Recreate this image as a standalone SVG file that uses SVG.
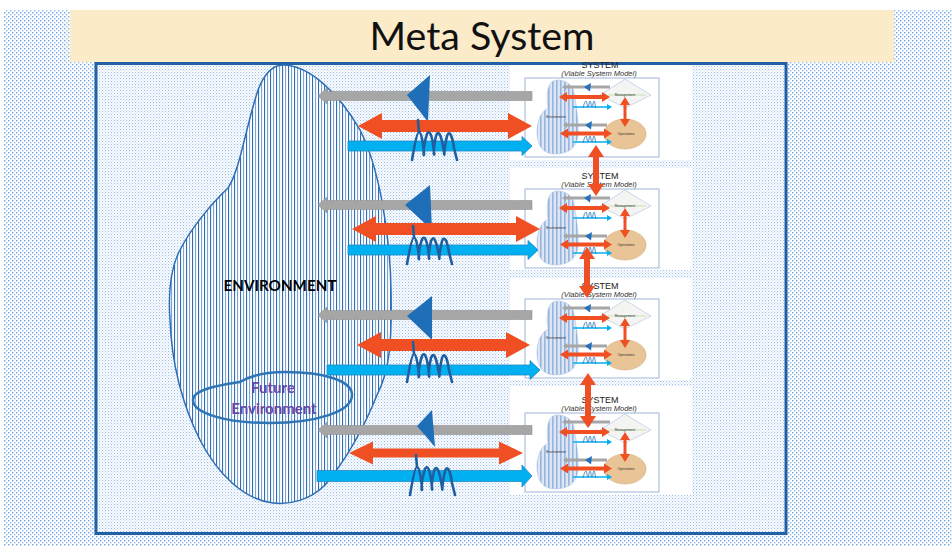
<svg xmlns="http://www.w3.org/2000/svg" xmlns:xlink="http://www.w3.org/1999/xlink" width="952" height="546" viewBox="0 0 952 546">
<defs>
<style>
.gr{fill:#A6A6A6;stroke:#8E8E8E;stroke-width:0.6}
.rd{fill:#F04E23}
.bl{fill:#00B0F0;stroke:#1C8BC4;stroke-width:0.8}
.tri{fill:#1F6EB8}
.coil{fill:none;stroke:#1F5FA0;stroke-width:2.6;stroke-linejoin:round;stroke-linecap:round}
.sg{fill:#A6A6A6}
.sr{fill:#F04E23}
.sb{fill:#00B0F0}
.st{fill:#2472BE}
.scoil{fill:none;stroke:#2E75B6;stroke-width:0.8}
.tiny{font-family:'Liberation Sans',Arial,sans-serif;font-size:3.5px;fill:#333;text-anchor:middle}
.sys{font-family:'Liberation Sans',Arial,sans-serif;font-size:9px;fill:#222;text-anchor:middle}
.vsm{font-family:'Liberation Sans',Arial,sans-serif;font-size:7.5px;font-style:italic;fill:#333;text-anchor:middle}
.pan{fill:#FFFFFF}
.inner{fill:#FFFFFF;stroke:#9DB3D9;stroke-width:1}
</style>
<pattern id="dotsOut" width="4" height="4" patternUnits="userSpaceOnUse">
<rect width="4" height="4" fill="#FFFFFF"/>
<rect x="0" y="0" width="1.4" height="1.4" fill="#6FA6E6"/>
<rect x="2" y="2" width="1.4" height="1.4" fill="#8DB9EC"/>
</pattern>
<pattern id="dotsIn" width="3" height="3" patternUnits="userSpaceOnUse">
<rect width="3" height="3" fill="#FFFFFF"/>
<rect x="0" y="0" width="1.1" height="1.1" fill="#9CC0EE"/>
<rect x="1.5" y="1.5" width="1.1" height="1.1" fill="#BCD5F3"/>
</pattern>
<pattern id="stripes" width="6" height="6" patternUnits="userSpaceOnUse">
<rect width="6" height="6" fill="#FFFFFF"/>
<rect x="0" y="0" width="1.1" height="6" fill="#2F6DB3"/>
<rect x="3" y="0" width="1.1" height="6" fill="#7AA4D6"/>
</pattern>
<pattern id="sstripes" width="4" height="4" patternUnits="userSpaceOnUse">
<rect width="4" height="4" fill="#DCE6F4"/>
<rect x="0" y="0" width="1.6" height="4" fill="#97B5DE"/>
</pattern>
<path id="coilShape" d="M8,0 L9,12 M2,40 C4,28 7,12 9,12 C12,12 14,32 14,34 C14,38 12,30 17,14 C19,10 22,12 24,32 C25,38 22,34 26,16 C28,10 31,12 34,32 C35,38 33,34 37,16 C39,10 42,14 44,28 L47,40"/>
</defs>

<rect x="0" y="0" width="952" height="546" fill="#FFFFFF"/>
<rect x="4" y="10" width="948" height="536" fill="url(#dotsOut)"/>
<rect id="frame" x="96" y="63.5" width="690" height="470" fill="url(#dotsIn)" stroke="#2160A6" stroke-width="3"/>

<g id="environment">
<path d="M283,65 C310,65 340,95 360,130 C378,165 390,230 391,290 C392,340 390,370 377,395 C365,425 350,455 325,485 C310,500 290,505 273,503 C245,500 218,475 200,440 C185,410 172,370 170,320 C168,290 172,265 180,250 C190,230 210,205 228,188 C240,170 245,130 258,90 C265,72 273,65 283,65 Z" fill="url(#stripes)" stroke="#2E6DB4" stroke-width="1.5"/>
</g>

<g id="future-environment">
<path d="M193,400 C193,389 222,385 240,382 C250,376 262,372 285,372 C325,372 352,381 352,395 C352,412 315,423 270,423 C225,423 193,413 193,400 Z" fill="none" stroke="#2E75B6" stroke-width="2.5"/>
</g>

<g id="system1">
<rect class="pan" x="510" y="65" width="182" height="95"/>
<g transform="translate(0,0)">
<text class="sys" x="600" y="68">SYSTEM</text>
<text class="vsm" x="599" y="76">(Viable System Model)</text>
<rect class="inner" x="525" y="78" width="134" height="79"/>
<path d="M553,81 C560,78 572,82 574,92 C576,105 579,120 578,135 C577,148 568,154 555,154 C543,154 537,146 537,132 C537,120 541,112 548,108 C546,98 547,84 553,81 Z" fill="url(#sstripes)" stroke="#B4C7E7" stroke-width="0.6"/>
<text class="tiny" x="556" y="118">Environment</text>
<polygon points="600,95 625,79 651,95 625,108" fill="#F4F5F2" stroke="#B4C7E7" stroke-width="0.7"/>
<line x1="608" y1="95" x2="646" y2="95" stroke="#A9D18E" stroke-width="0.6"/>
<text class="tiny" x="625" y="96">Management</text>
<ellipse cx="625" cy="134" rx="21" ry="15" fill="#E8C496" stroke="#D0A870" stroke-width="0.6"/>
<text class="tiny" x="626" y="135">Operations</text>
<path class="sr" d="M625,97 L630,105 H626.5 V119 H630 L625,127 L620,119 H623.5 V105 H620 Z"/>
<path class="sg" d="M610,85.5 H566 V84 L562,87 L566,90 V88.5 H610 Z"/>
<path class="st" d="M584,87 L591,83 L590,91.5 Z"/>
<path class="sr" d="M559,97 L567,92 V95 H602 V92 L610,97 L602,102 V99 H567 V102 Z"/>
<path class="sb" d="M573,106.3 H607 V104 L612,107 L607,110 V107.7 H573 Z"/>
<path class="scoil" d="M583,108 C584,104 585,101 586,101 C587,101 587,107 588,107 C589,107 589,101 590,101 C591,101 591,107 592,107 C593,107 593,101 594,101 C595,101 595,106 596,108"/>
<path class="sg" d="M607,123.5 H567 V122 L563,125 L567,128 V126.5 H607 Z"/>
<path class="st" d="M585,125 L592,121 L591,129.5 Z"/>
<path class="sr" d="M560,133.5 L568,128.5 V131.5 H604 V128.5 L612,133.5 L604,138.5 V135.5 H568 V138.5 Z"/>
<path class="sb" d="M573,141.3 H607 V139 L612,142 L607,145 V142.7 H573 Z"/>
<path class="scoil" d="M583,143 C584,139 585,136 586,136 C587,136 587,142 588,142 C589,142 589,136 590,136 C591,136 591,142 592,142 C593,142 593,136 594,136 C595,136 595,141 596,143"/>
</g>
</g>

<g id="system2">
<rect class="pan" x="510" y="168" width="182" height="102"/>
<g transform="translate(0,111)">
<text class="sys" x="600" y="68">SYSTEM</text>
<text class="vsm" x="599" y="76">(Viable System Model)</text>
<rect class="inner" x="525" y="78" width="134" height="79"/>
<path d="M553,81 C560,78 572,82 574,92 C576,105 579,120 578,135 C577,148 568,154 555,154 C543,154 537,146 537,132 C537,120 541,112 548,108 C546,98 547,84 553,81 Z" fill="url(#sstripes)" stroke="#B4C7E7" stroke-width="0.6"/>
<text class="tiny" x="556" y="118">Environment</text>
<polygon points="600,95 625,79 651,95 625,108" fill="#F4F5F2" stroke="#B4C7E7" stroke-width="0.7"/>
<line x1="608" y1="95" x2="646" y2="95" stroke="#A9D18E" stroke-width="0.6"/>
<text class="tiny" x="625" y="96">Management</text>
<ellipse cx="625" cy="134" rx="21" ry="15" fill="#E8C496" stroke="#D0A870" stroke-width="0.6"/>
<text class="tiny" x="626" y="135">Operations</text>
<path class="sr" d="M625,97 L630,105 H626.5 V119 H630 L625,127 L620,119 H623.5 V105 H620 Z"/>
<path class="sg" d="M610,85.5 H566 V84 L562,87 L566,90 V88.5 H610 Z"/>
<path class="st" d="M584,87 L591,83 L590,91.5 Z"/>
<path class="sr" d="M559,97 L567,92 V95 H602 V92 L610,97 L602,102 V99 H567 V102 Z"/>
<path class="sb" d="M573,106.3 H607 V104 L612,107 L607,110 V107.7 H573 Z"/>
<path class="scoil" d="M583,108 C584,104 585,101 586,101 C587,101 587,107 588,107 C589,107 589,101 590,101 C591,101 591,107 592,107 C593,107 593,101 594,101 C595,101 595,106 596,108"/>
<path class="sg" d="M607,123.5 H567 V122 L563,125 L567,128 V126.5 H607 Z"/>
<path class="st" d="M585,125 L592,121 L591,129.5 Z"/>
<path class="sr" d="M560,133.5 L568,128.5 V131.5 H604 V128.5 L612,133.5 L604,138.5 V135.5 H568 V138.5 Z"/>
<path class="sb" d="M573,141.3 H607 V139 L612,142 L607,145 V142.7 H573 Z"/>
<path class="scoil" d="M583,143 C584,139 585,136 586,136 C587,136 587,142 588,142 C589,142 589,136 590,136 C591,136 591,142 592,142 C593,142 593,136 594,136 C595,136 595,141 596,143"/>
</g>
</g>

<g id="system3">
<rect class="pan" x="510" y="278" width="182" height="102"/>
<g transform="translate(0,221)">
<text class="sys" x="600" y="68">SYSTEM</text>
<text class="vsm" x="599" y="76">(Viable System Model)</text>
<rect class="inner" x="525" y="78" width="134" height="79"/>
<path d="M553,81 C560,78 572,82 574,92 C576,105 579,120 578,135 C577,148 568,154 555,154 C543,154 537,146 537,132 C537,120 541,112 548,108 C546,98 547,84 553,81 Z" fill="url(#sstripes)" stroke="#B4C7E7" stroke-width="0.6"/>
<text class="tiny" x="556" y="118">Environment</text>
<polygon points="600,95 625,79 651,95 625,108" fill="#F4F5F2" stroke="#B4C7E7" stroke-width="0.7"/>
<line x1="608" y1="95" x2="646" y2="95" stroke="#A9D18E" stroke-width="0.6"/>
<text class="tiny" x="625" y="96">Management</text>
<ellipse cx="625" cy="134" rx="21" ry="15" fill="#E8C496" stroke="#D0A870" stroke-width="0.6"/>
<text class="tiny" x="626" y="135">Operations</text>
<path class="sr" d="M625,97 L630,105 H626.5 V119 H630 L625,127 L620,119 H623.5 V105 H620 Z"/>
<path class="sg" d="M610,85.5 H566 V84 L562,87 L566,90 V88.5 H610 Z"/>
<path class="st" d="M584,87 L591,83 L590,91.5 Z"/>
<path class="sr" d="M559,97 L567,92 V95 H602 V92 L610,97 L602,102 V99 H567 V102 Z"/>
<path class="sb" d="M573,106.3 H607 V104 L612,107 L607,110 V107.7 H573 Z"/>
<path class="scoil" d="M583,108 C584,104 585,101 586,101 C587,101 587,107 588,107 C589,107 589,101 590,101 C591,101 591,107 592,107 C593,107 593,101 594,101 C595,101 595,106 596,108"/>
<path class="sg" d="M607,123.5 H567 V122 L563,125 L567,128 V126.5 H607 Z"/>
<path class="st" d="M585,125 L592,121 L591,129.5 Z"/>
<path class="sr" d="M560,133.5 L568,128.5 V131.5 H604 V128.5 L612,133.5 L604,138.5 V135.5 H568 V138.5 Z"/>
<path class="sb" d="M573,141.3 H607 V139 L612,142 L607,145 V142.7 H573 Z"/>
<path class="scoil" d="M583,143 C584,139 585,136 586,136 C587,136 587,142 588,142 C589,142 589,136 590,136 C591,136 591,142 592,142 C593,142 593,136 594,136 C595,136 595,141 596,143"/>
</g>
</g>

<g id="system4">
<rect class="pan" x="510" y="386" width="182" height="109"/>
<g transform="translate(0,335)">
<text class="sys" x="600" y="68">SYSTEM</text>
<text class="vsm" x="599" y="76">(Viable System Model)</text>
<rect class="inner" x="525" y="78" width="134" height="79"/>
<path d="M553,81 C560,78 572,82 574,92 C576,105 579,120 578,135 C577,148 568,154 555,154 C543,154 537,146 537,132 C537,120 541,112 548,108 C546,98 547,84 553,81 Z" fill="url(#sstripes)" stroke="#B4C7E7" stroke-width="0.6"/>
<text class="tiny" x="556" y="118">Environment</text>
<polygon points="600,95 625,79 651,95 625,108" fill="#F4F5F2" stroke="#B4C7E7" stroke-width="0.7"/>
<line x1="608" y1="95" x2="646" y2="95" stroke="#A9D18E" stroke-width="0.6"/>
<text class="tiny" x="625" y="96">Management</text>
<ellipse cx="625" cy="134" rx="21" ry="15" fill="#E8C496" stroke="#D0A870" stroke-width="0.6"/>
<text class="tiny" x="626" y="135">Operations</text>
<path class="sr" d="M625,97 L630,105 H626.5 V119 H630 L625,127 L620,119 H623.5 V105 H620 Z"/>
<path class="sg" d="M610,85.5 H566 V84 L562,87 L566,90 V88.5 H610 Z"/>
<path class="st" d="M584,87 L591,83 L590,91.5 Z"/>
<path class="sr" d="M559,97 L567,92 V95 H602 V92 L610,97 L602,102 V99 H567 V102 Z"/>
<path class="sb" d="M573,106.3 H607 V104 L612,107 L607,110 V107.7 H573 Z"/>
<path class="scoil" d="M583,108 C584,104 585,101 586,101 C587,101 587,107 588,107 C589,107 589,101 590,101 C591,101 591,107 592,107 C593,107 593,101 594,101 C595,101 595,106 596,108"/>
<path class="sg" d="M607,123.5 H567 V122 L563,125 L567,128 V126.5 H607 Z"/>
<path class="st" d="M585,125 L592,121 L591,129.5 Z"/>
<path class="sr" d="M560,133.5 L568,128.5 V131.5 H604 V128.5 L612,133.5 L604,138.5 V135.5 H568 V138.5 Z"/>
<path class="sb" d="M573,141.3 H607 V139 L612,142 L607,145 V142.7 H573 Z"/>
<path class="scoil" d="M583,143 C584,139 585,136 586,136 C587,136 587,142 588,142 C589,142 589,136 590,136 C591,136 591,142 592,142 C593,142 593,136 594,136 C595,136 595,141 596,143"/>
</g>
</g>

<g id="title">
<rect x="70" y="10" width="824" height="52" fill="#FBEBC9"/>
<text x="482" y="50" font-family="Lato,'Open Sans',sans-serif" font-size="38" text-anchor="middle" textLength="225" lengthAdjust="spacingAndGlyphs" fill="#111">Meta System</text>
</g>

<g id="connectors">
<!-- row 1 -->
<path class="gr" d="M532,91.5 H327 V88 L318,96 L327,104 V100.5 H532 Z"/>
<path class="tri" d="M407,95 L430,75 L428,122 Z"/>
<path class="rd" d="M358,126 L382,113 V120 H508 V113 L532,126 L508,139 V132 H382 V139 Z"/>
<path class="bl" d="M348,141 H522 V136.5 L532,146 L522,155.5 V151 H348 Z"/>
<use href="#coilShape" xlink:href="#coilShape" class="coil" transform="translate(410,120)"/>
<!-- row 2 -->
<path class="gr" d="M532,200.5 H327 V197 L318,205 L327,213 V209.5 H532 Z"/>
<path class="tri" d="M405,205 L430,185 L432,230 Z"/>
<path class="rd" d="M352,229 L376,216 V223 H516 V216 L540,229 L516,242 V235 H376 V242 Z"/>
<path class="bl" d="M348,245 H528 V240.5 L538,250 L528,259.5 V255 H348 Z"/>
<use href="#coilShape" xlink:href="#coilShape" class="coil" transform="translate(405,226) scale(1,0.95)"/>
<!-- row 3 -->
<path class="gr" d="M532,310.5 H327 V307 L318,315 L327,323 V319.5 H532 Z"/>
<path class="tri" d="M407,316 L432,296 L432,340 Z"/>
<path class="rd" d="M357,345 L381,332 V339 H506 V332 L530,345 L506,358 V351 H381 V358 Z"/>
<path class="bl" d="M327,365 H530 V360.5 L540,370 L530,379.5 V375 H327 Z"/>
<use href="#coilShape" xlink:href="#coilShape" class="coil" transform="translate(405,342)"/>
<!-- row 4 -->
<path class="gr" d="M532,425.5 H327 V422 L318,430 L327,438 V434.5 H532 Z"/>
<path class="tri" d="M417,426 L432,410 L435,447 Z"/>
<path class="rd" d="M349,453 L373,441.5 V448.5 H499 V441.5 L523,453 L499,464.5 V457.5 H373 V464.5 Z"/>
<path class="bl" d="M317,470.5 H522 V465 L532,476 L522,487 V481.5 H317 Z"/>
<use href="#coilShape" xlink:href="#coilShape" class="coil" transform="translate(408,455)"/>
<!-- vertical links between systems -->
<path class="rd" d="M596,145 L604,157 H599 V184 H604 L596,196 L588,184 H593 V157 H588 Z"/>
<path class="rd" d="M587,247 L595,259 H590 V286 H595 L587,298 L579,286 H584 V259 H579 Z"/>
<path class="rd" d="M588,373 L596,385 H591 V416 H596 L588,428 L580,416 H585 V385 H580 Z"/>
</g>

<g id="labels">
<text x="280" y="291" font-family="Lato,'Liberation Sans',sans-serif" font-weight="bold" font-size="15" text-anchor="middle" textLength="113" lengthAdjust="spacingAndGlyphs" fill="#000">ENVIRONMENT</text>
<text x="273" y="393" font-family="Lato,'Liberation Sans',sans-serif" font-weight="bold" font-size="15" text-anchor="middle" fill="#6A46A8">Future</text>
<text x="274" y="414" font-family="Lato,'Liberation Sans',sans-serif" font-weight="bold" font-size="15" text-anchor="middle" fill="#6A46A8">Environment</text>
</g>
</svg>
